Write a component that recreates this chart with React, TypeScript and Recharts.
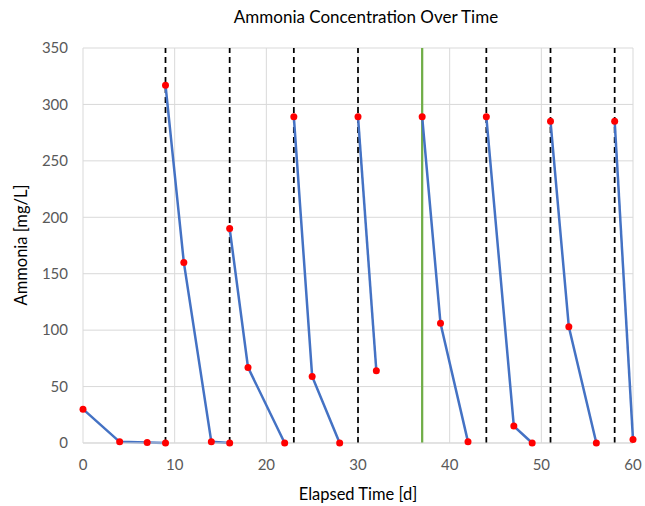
import { ComposedChart, Line, XAxis, YAxis, CartesianGrid, ReferenceLine, Label } from 'recharts';

// each run between dosing events is drawn as its own line segment
const runDays = [
    [0, 4, 7, 9],
    [9, 11, 14, 16],
    [16, 18, 22],
    [23, 25, 28],
    [30, 32],
    [37, 39, 42],
    [44, 47, 49],
    [51, 53, 56],
    [58, 60],
];
const runAmmonia = [
    [30, 1, 0.5, 0],
    [317, 160, 1, 0],
    [190, 67, 0],
    [289, 59, 0],
    [289, 64],
    [289, 106, 1],
    [289, 15, 0],
    [285, 103, 0],
    [285, 3],
];
const doseDays = [9, 16, 23, 30, 44, 51, 58];
const switchDay = 37;
const xTicks = [0, 10, 20, 30, 40, 50, 60];
const yTicks = [0, 50, 100, 150, 200, 250, 300, 350];

const FONT = 'Lato, "Open Sans", sans-serif';

export default function App() {
    const runs = runDays.map((days, i) => days.map((d, j) => ({ day: d, nh3: runAmmonia[i][j] })));

    return (
        <div style={{ position: 'absolute', left: 0, top: 0, width: 645, height: 506, background: '#fff', fontFamily: FONT }}>
            <div style={{ position: 'absolute', top: 6, left: 0, width: 732, textAlign: 'center', fontSize: 17, color: '#000' }}>
                Ammonia Concentration Over Time
            </div>
            <ComposedChart width={645} height={506} margin={{ top: 48, right: 12, left: 0, bottom: 0 }}>
                <CartesianGrid stroke="#d9d9d9" strokeWidth={1} />
                <XAxis
                    type="number"
                    dataKey="day"
                    domain={[0, 60]}
                    ticks={xTicks}
                    height={63}
                    tickLine={false}
                    axisLine={{ stroke: '#d9d9d9' }}
                    tickMargin={10}
                    tick={{ fontSize: 15, fill: '#595959', fontFamily: FONT }}
                    allowDuplicatedCategory={false}
                >
                    <Label
                        content={() => (
                            <text x={358} y={500} textAnchor="middle" fontSize={16.5} fill="#000" fontFamily={FONT}>
                                Elapsed Time [d]
                            </text>
                        )}
                    />
                </XAxis>
                <YAxis
                    type="number"
                    domain={[0, 350]}
                    ticks={yTicks}
                    width={83}
                    tickLine={false}
                    axisLine={false}
                    tickMargin={9}
                    tick={{ fontSize: 15, fill: '#595959', fontFamily: FONT }}
                >
                    <Label
                        content={() => (
                            <text x={27} y={245} transform="rotate(-90 27 245)" textAnchor="middle" fontSize={16.5} fill="#000" fontFamily={FONT}>
                                Ammonia [mg/L]
                            </text>
                        )}
                    />
                </YAxis>
                {doseDays.map((d) => (
                    <ReferenceLine key={d} x={d} stroke="#000" strokeWidth={1.75} strokeDasharray="6 4" />
                ))}
                <ReferenceLine x={switchDay} stroke="#70AD47" strokeWidth={2.25} />
                {runs.map((run, i) => (
                    <Line
                        key={i}
                        data={run}
                        dataKey="nh3"
                        type="linear"
                        stroke="#4472C4"
                        strokeWidth={2.5}
                        dot={{ r: 3.5, fill: '#FF0000', stroke: '#FF0000', strokeWidth: 0 }}
                        activeDot={false}
                        isAnimationActive={false}
                    />
                ))}
            </ComposedChart>
        </div>
    );
}
